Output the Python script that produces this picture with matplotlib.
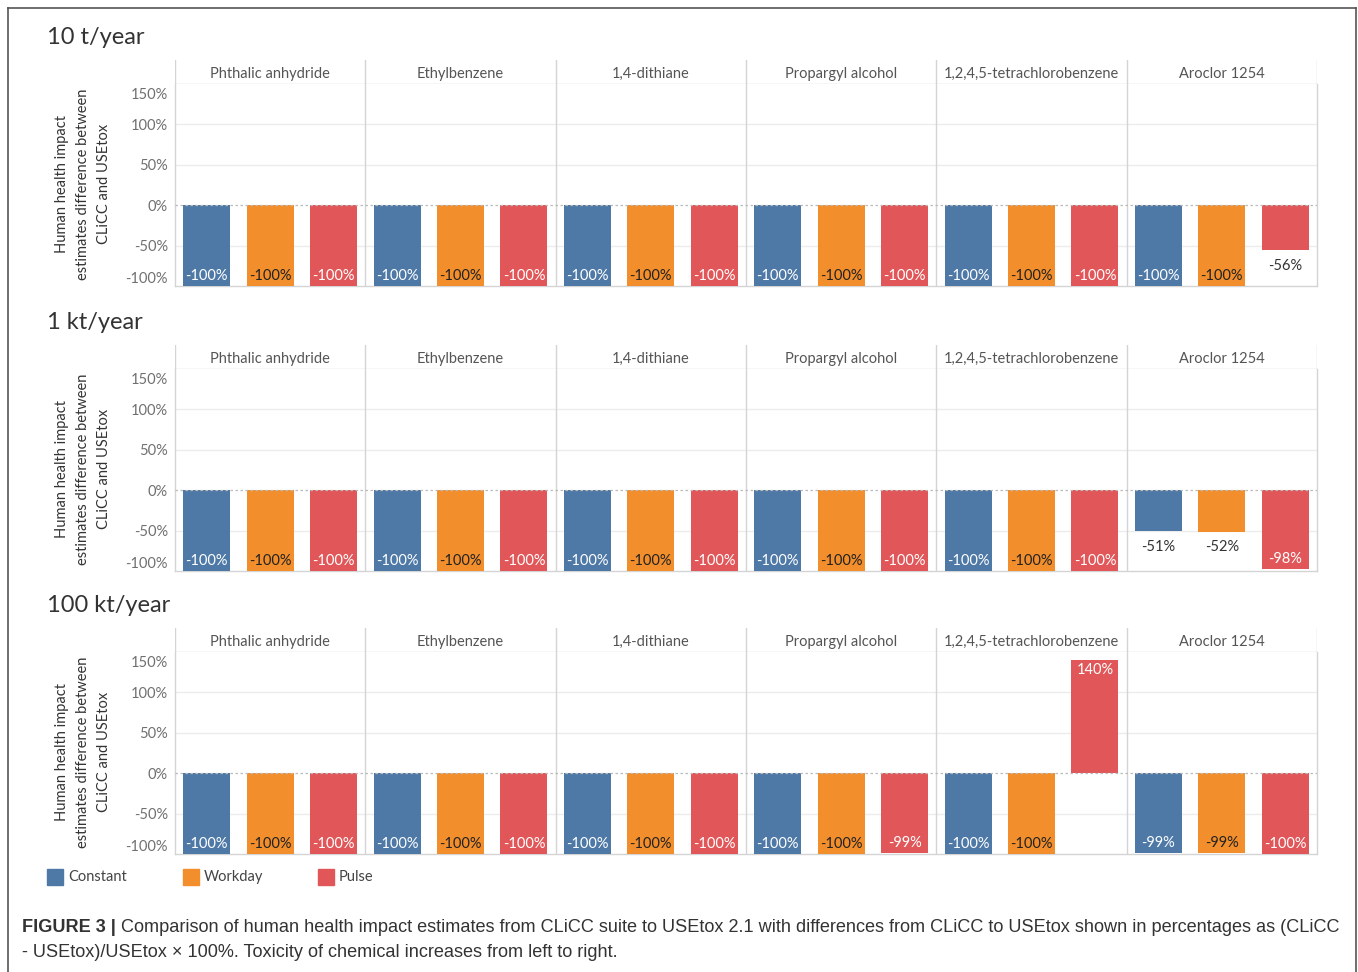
import matplotlib
matplotlib.use("Agg")
import matplotlib.pyplot as plt
from matplotlib.lines import Line2D
from matplotlib.patches import Rectangle
from matplotlib.transforms import offset_copy

# ---- data -------------------------------------------------------------
chemicals = ["Phthalic anhydride", "Ethylbenzene", "1,4-dithiane",
             "Propargyl alcohol", "1,2,4,5-tetrachlorobenzene", "Aroclor 1254"]
release_levels = ["10 t/year", "1 kt/year", "100 kt/year"]
emission_patterns = ["Constant", "Workday", "Pulse"]

constant_10t = [-100, -100, -100, -100, -100, -100]
workday_10t = [-100, -100, -100, -100, -100, -100]
pulse_10t = [-100, -100, -100, -100, -100, -56]

constant_1kt = [-100, -100, -100, -100, -100, -51]
workday_1kt = [-100, -100, -100, -100, -100, -52]
pulse_1kt = [-100, -100, -100, -100, -100, -98]

constant_100kt = [-100, -100, -100, -100, -100, -99]
workday_100kt = [-100, -100, -100, -100, -100, -99]
pulse_100kt = [-100, -100, -100, -99, 140, -100]

panels = [
    (constant_10t, workday_10t, pulse_10t),
    (constant_1kt, workday_1kt, pulse_1kt),
    (constant_100kt, workday_100kt, pulse_100kt),
]

y_ticks = [-100, -50, 0, 50, 100, 150]
y_min, y_max = -100, 150

colors = ["#4E79A7", "#F28E2B", "#E15759"]
inside_text = ["white", "#222222", "white"]

# ---- layout helpers (pixel based) -------------------------------------
W, H = 1358, 972
fig = plt.figure(figsize=(W / 100, H / 100), dpi=100)
fig.patch.set_facecolor("white")


def rect(x0, y0, x1, y1):
    return [x0 / W, 1 - y1 / H, (x1 - x0) / W, (y1 - y0) / H]


def fx(x):
    return x / W


def fy(y):
    return 1 - y / H


FONT = "Lato"
GRID = "#ececec"
SEP = "#d4d4d4"
TXT = "#555555"

plot_left, plot_right = 175, 1317
header_tops = [60, 345, 628]
header_h = 24
plot_h = 202
n_groups = len(chemicals)
n_series = len(emission_patterns)
xlim = (-0.5, n_groups * n_series - 0.5)
px_per_unit = plot_h / (y_max - y_min)

# outer frame
for xs, ys in [((8, 8), (8, 980)), ((8, 1356), (8, 8)), ((1356, 1356), (8, 980))]:
    fig.add_artist(Line2D([fx(x) for x in xs], [fy(y) for y in ys],
                          color="#555555", lw=1.2, transform=fig.transFigure))

for p, (level, series) in enumerate(zip(release_levels, panels)):
    top = header_tops[p]
    plot_top = top + header_h
    plot_bottom = plot_top + plot_h

    # panel title
    fig.text(fx(47), fy(top - 16), level, fontsize=17, family=FONT,
             color="#333333", va="baseline", ha="left")

    # column header strip
    hax = fig.add_axes(rect(plot_left, top, plot_right, plot_top))
    hax.set_xlim(*xlim)
    hax.set_ylim(0, 1)
    hax.axis("off")
    for g, name in enumerate(chemicals):
        hax.text(g * n_series + 1, 0.27, name, ha="center", va="baseline",
                 fontsize=10.5, family=FONT, color=TXT)
    for g in range(n_groups + 1):
        hax.axvline(g * n_series - 0.5, color=SEP, lw=1)
    hax.axhline(0, color=SEP, lw=1)

    # bars
    ax = fig.add_axes(rect(plot_left, plot_top, plot_right, plot_bottom))
    ax.set_xlim(*xlim)
    ax.set_ylim(y_min, y_max)
    for s, vals in enumerate(series):
        xs = [g * n_series + s for g in range(n_groups)]
        ax.bar(xs, vals, width=0.74, color=colors[s], zorder=3)
        for x, v in zip(xs, vals):
            label = f"{v:d}%"
            room = ((v - y_min) if v < 0 else (y_max - v)) * px_per_unit
            direction = -1 if v < 0 else 1
            if room >= 24:
                # label sits just beyond the bar end
                off, col = 11 * direction, "#333333"
            else:
                # label sits inside the bar end
                off, col = -7.3 * direction, inside_text[s]
            ax.annotate(label, (x, v), xytext=(0, off), textcoords="offset points",
                        ha="center", va="center", fontsize=10.5, family=FONT,
                        color=col, zorder=4)

    # grid, separators and zero line
    for t in y_ticks:
        if t in (0, y_min, y_max):
            continue
        ax.axhline(t, color=GRID, lw=1, zorder=1)
    ax.axhline(0, color="#bbbbbb", lw=0.9, ls=(0, (2, 2)), zorder=5)
    for g in range(1, n_groups):
        ax.axvline(g * n_series - 0.5, color=SEP, lw=1, zorder=2)
    ax.spines["top"].set_visible(False)
    for side in ("left", "right", "bottom"):
        ax.spines[side].set_color(SEP)
        ax.spines[side].set_linewidth(1)
    ax.set_xticks([])
    ax.set_yticks(y_ticks)
    ax.set_yticklabels([f"{t}%" for t in y_ticks], family=FONT, fontsize=10.5,
                       color="#707070")
    ax.tick_params(axis="y", length=0, pad=5)
    labels = ax.get_yticklabels()
    labels[0].set_va("bottom")
    labels[-1].set_va("top")
    labels[-1].set_transform(offset_copy(labels[-1].get_transform(), fig=fig,
                                         x=0, y=-4, units="dots"))

    # y axis title
    fig.text(fx(83), fy(plot_top + 100),
             "Human health impact\nestimates difference between\nCLiCC and USEtox",
             rotation=90, ha="center", va="center", fontsize=10.5, family=FONT,
             color="#333333", linespacing=1.6, multialignment="center")

# legend
legend_x = [47, 183, 318]
for x, name, c in zip(legend_x, emission_patterns, colors):
    fig.add_artist(Rectangle((fx(x), fy(885)), 16 / W, 16 / H, color=c,
                             transform=fig.transFigure))
    fig.text(fx(x + 21), fy(877), name, fontsize=10.5, family=FONT,
             color="#444444", va="center", ha="left")

# caption
cap_font = "Liberation Sans"
cap_size = 13.05
renderer = fig.canvas.get_renderer()
bold = fig.text(fx(22), fy(927), "FIGURE 3 |", fontsize=cap_size, family=cap_font,
                weight="bold", color="#333333", va="center", ha="left")
bb = bold.get_window_extent(renderer)
fig.text((bb.x1 + 5) / W, fy(927),
         "Comparison of human health impact estimates from CLiCC suite to USEtox 2.1 "
         "with differences from CLiCC to USEtox shown in percentages as (CLiCC",
         fontsize=cap_size, family=cap_font, color="#333333", va="center", ha="left")
fig.text(fx(22), fy(952),
         "- USEtox)/USEtox \u00d7 100%. Toxicity of chemical increases from left to right.",
         fontsize=cap_size, family=cap_font, color="#333333", va="center", ha="left")

fig.savefig("out.png", dpi=100, facecolor="white")
